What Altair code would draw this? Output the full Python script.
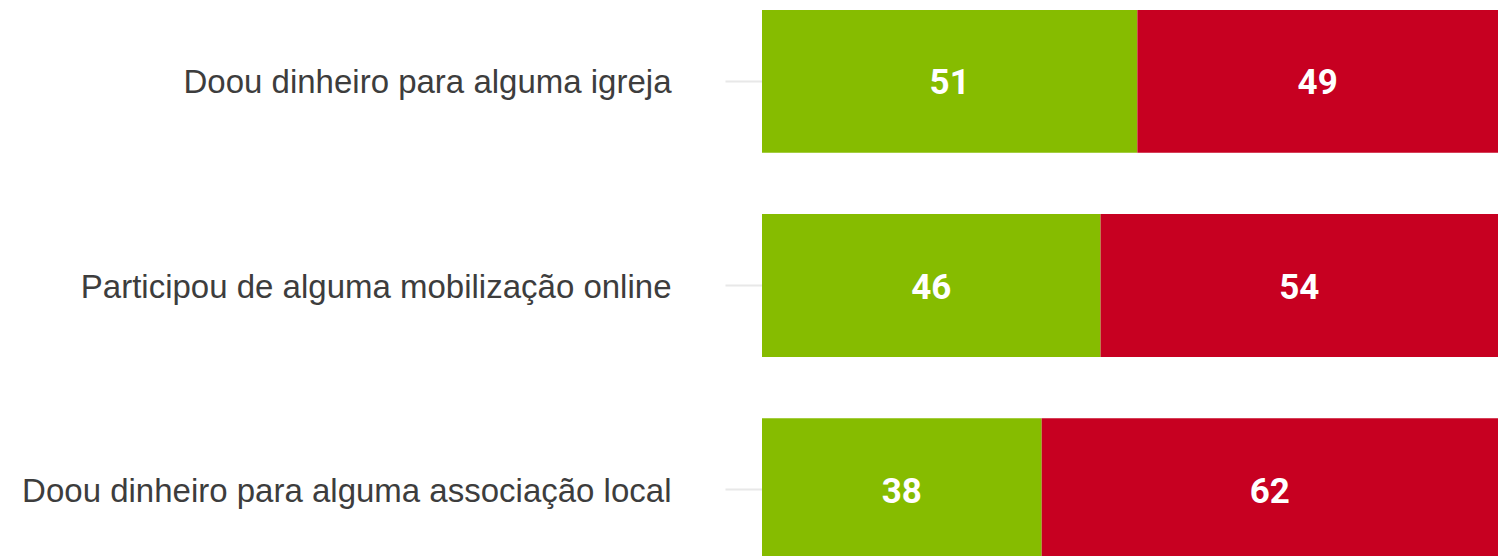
import altair as alt
import pandas as pd

categories = [
    "Doou dinheiro para alguma igreja",
    "Participou de alguma mobilização online",
    "Doou dinheiro para alguma associação local",
]
yes_values = [51, 46, 38]
no_values = [49, 54, 62]
series = ["Sim", "Não"]
colors = ["#86bc00", "#c70021"]

rows = []
for c, y, n in zip(categories, yes_values, no_values):
    rows.append({"cat": c, "serie": series[0], "ord": 0, "value": y})
    rows.append({"cat": c, "serie": series[1], "ord": 1, "value": n})
df = pd.DataFrame(rows)

base = alt.Chart(df).transform_stack(
    stack="value", groupby=["cat"], as_=["x0", "x1"],
    sort=[alt.SortField("ord", order="ascending")]
).transform_calculate(mid="(datum.x0 + datum.x1) / 2")

yenc = alt.Y(
    "cat:N", sort=categories, title=None,
    scale=alt.Scale(range=[2, 553], paddingInner=0.3, paddingOuter=0),
    axis=alt.Axis(
        domain=False, ticks=True, tickColor="#e8e8e8", tickSize=37, tickWidth=2,
        labelPadding=54, labelFontSize=33, labelFont="Liberation Sans",
        labelColor="#3d3d3d", labelLimit=0, grid=False, labelOffset=2,
    ),
)
xscale = alt.Scale(domain=[0, 100], nice=False)

bars = base.mark_bar().encode(
    y=yenc,
    x=alt.X("x0:Q", scale=xscale, axis=None),
    x2="x1:Q",
    color=alt.Color("serie:N", scale=alt.Scale(domain=series, range=colors), legend=None),
)

labels = base.mark_text(
    font="Roboto", fontSize=35, fontWeight="bold", color="white",
    align="center", baseline="middle", dy=2,
).encode(
    y=alt.Y("cat:N", sort=categories),
    x=alt.X("mid:Q", scale=xscale),
    text=alt.Text("value:Q"),
)

chart = alt.layer(bars, labels).properties(
    width=736, height=548,
    autosize=alt.AutoSizeParams(type="none"),
    padding={"left": 754, "top": 0, "right": 0, "bottom": 0},
    background="white",
).configure_view(stroke=None)

chart.save("out.html", embed_options={"renderer": "svg", "actions": False})
